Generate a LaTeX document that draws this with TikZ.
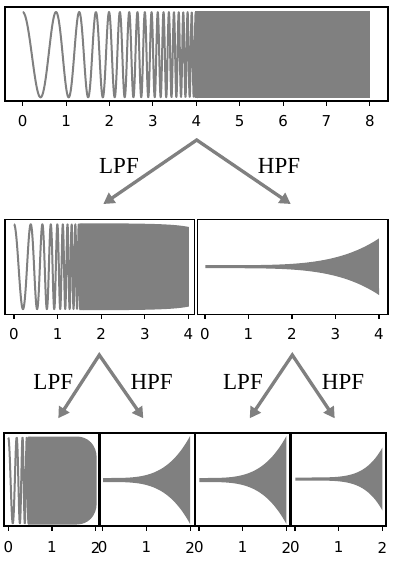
\documentclass[tikz,border=0pt]{standalone}
\usepackage{fontspec}
\setmainfont{Liberation Serif}
\newfontfamily\tickfont{DejaVu Sans}
\usetikzlibrary{arrows.meta}
\definecolor{siggray}{HTML}{808080}
\newcommand\chirp[1]{cos(360*(1.18*(#1)+0.21*(#1)*(#1)*(#1)))}

\begin{document}
\begin{tikzpicture}[x=1pt,y=-1pt,
  frame/.style={draw=black,line width=1.1pt},
  sig/.style={draw=siggray,line width=2pt,line join=round},
  flt/.style={draw=siggray,line width=3.3pt,{Triangle[length=11pt,width=12pt]}-{Triangle[length=11pt,width=12pt]}},
  flab/.style={font=\fontsize{23}{23}\selectfont,inner sep=0pt},
  tlab/.style={font=\tickfont\fontsize{15}{15}\selectfont,inner sep=0pt}]
\path[use as bounding box,fill=white] (0,0) rectangle (398,567);
% full chirp
\draw[sig] plot[domain=0:4.1,samples=800] ({22.7+43.4*\x},{54.7-42.6*\chirp{\x}});
\fill[siggray] ({22.7+43.4*3.98},11) rectangle ({22.7+43.4*8},98.4);
\draw[frame] (5,7) rectangle (388,101);
\foreach \i in {0,...,8}{\draw[frame] ({22.7+43.4*\i},101)--++(0,5); \node[tlab] (top-\i) at ({22.7+43.4*\i},121) {\i};}
% level 1
\draw[sig] plot[domain=0:1.6,samples=500] ({14+43.6*\x},{266.7-42.4*\chirp{2*\x}});
\fill[siggray] ({14+43.6*1.5},223.3) .. controls (150,223.3) and (175,224) .. (188.8,227) -- (188.8,306.5) .. controls (175,309.5) and (150,310.2) .. ({14+43.6*1.5},310.2) -- cycle;
\fill[siggray] plot[domain=0.01:4,samples=80] ({205+43.5*\x},{266.7-1.5-26.8*(\x/4)^4.3}) -- plot[domain=4:0.01,samples=80] ({205+43.5*\x},{266.7+1.5+26.8*(\x/4)^4.3}) -- cycle;
\draw[frame] (5,219.3) rectangle (194.6,314.3);
\draw[frame] (197.4,219.3) rectangle (388,314.3);
\foreach \i in {0,...,4}{\draw[frame] ({14+43.6*\i},314.3)--++(0,5); \node[tlab] (lo-\i) at ({14+43.6*\i},334) {\i};
  \draw[frame] ({205+43.5*\i},314.3)--++(0,5); \node[tlab] (hi-\i) at ({205+43.5*\i},334) {\i};}
% level 2
\draw[sig] plot[domain=0:0.5,samples=300] ({8.3+43.7*\x},{480.5-42.8*\chirp{4*\x}});
\fill[siggray] ({8.3+43.7*0.45},436.5) -- (76.7,436.5) .. controls (88,436.5) and (96.7,445) .. (96.7,458) -- (96.7,503) .. controls (96.7,516) and (88,524.5) .. (76.7,524.5) -- ({8.3+43.7*0.45},524.5) -- cycle;
\foreach \x in {102.7,199}{\fill[siggray] plot[domain=0.01:2,samples=60,variable=\t] ({\x+43.7*\t},{480-2-42*(\t/2)^3.8}) -- plot[domain=2:0.01,samples=60,variable=\t] ({\x+43.7*\t},{480+2+42*(\t/2)^3.8}) -- cycle;}
\fill[siggray] plot[domain=0.01:2,samples=60,variable=\t] ({295+43.7*\t},{479-1.5-30*(\t/2)^5.2}) -- plot[domain=2:0.01,samples=60,variable=\t] ({295+43.7*\t},{479+1.5+30*(\t/2)^5.2}) -- cycle;
\foreach \b/\l/\r/\x in {1/4/98.4/8.3,2/100/194.2/102.7,3/195.8/290/199,4/291.6/386/295}{
  \draw[frame] (\l,433) rectangle (\r,526);
  \foreach \i in {0,1,2}{\draw[frame] ({\x+43.7*\i},526)--++(0,5); \node[tlab] (b\b-\i) at ({\x+43.7*\i},547.5) {\i};}}
% filter arrows
\foreach \n/\ax/\ay/\lx/\hx/\ty/\llx/\hlx/\ly in {0/196.7/140/103.3/290.7/204/119/279/165.5,1/99.3/355/58.3/143.3/418.3/53.3/151.7/381.7,2/292.3/355/249.7/334.7/418.3/243/343/381.7}{
  \coordinate (apex-\n) at (\ax,\ay); \coordinate (lp-\n) at (\lx,\ty); \coordinate (hp-\n) at (\hx,\ty);
  \draw[flt] (lp-\n)--(apex-\n)--(hp-\n);
  \node[flab] (lpf-\n) at (\llx,\ly) {LPF}; \node[flab] (hpf-\n) at (\hlx,\ly) {HPF};}
\end{tikzpicture}
\end{document}
